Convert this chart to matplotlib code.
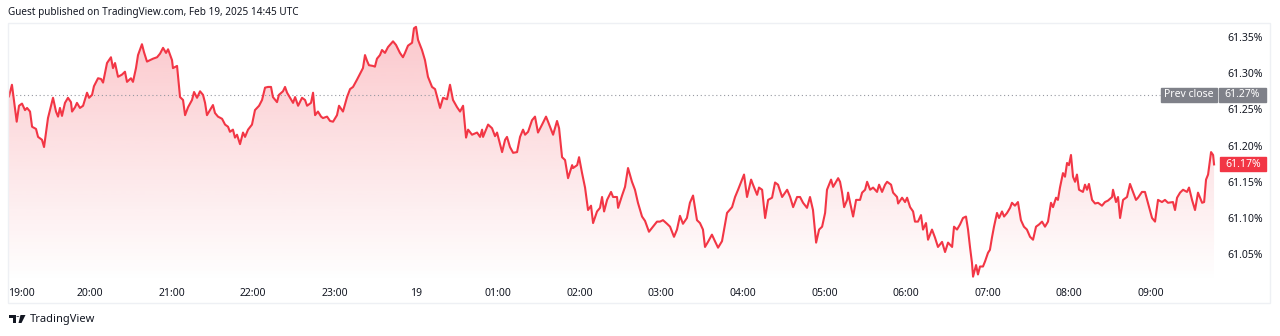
import numpy as np
import matplotlib
matplotlib.use('Agg')
import matplotlib.pyplot as plt
from matplotlib.patches import Rectangle, Polygon, Circle

plt.rcParams['font.family'] = ['Noto Sans', 'DejaVu Sans']

# minutes after 19:00 (Feb 18) and value in %
minutes = [
    0.4, 2.6, 6.1, 7.8, 10.0, 12.2, 13.7, 15.9, 17.4, 20.3,
    21.8, 24.7, 26.2, 29.1, 32.8, 35.0, 36.5, 37.9, 39.4, 41.6,
    43.8, 46.0, 46.8, 49.0, 50.4, 52.6, 54.9, 57.8, 59.3, 61.5,
    62.9, 65.9, 68.1, 69.6, 72.5, 75.4, 76.9, 78.4, 80.6, 83.5,
    85.7, 87.2, 90.1, 91.6, 93.8, 95.3, 98.2, 99.7, 101.9, 104.1,
    106.3, 109.3, 111.5, 113.7, 115.9, 117.4, 120.3, 121.0, 124.0, 126.2,
    128.4, 129.9, 132.1, 135.0, 136.5, 138.7, 140.9, 143.1, 144.6, 146.0,
    148.2, 150.4, 151.9, 154.1, 157.1, 159.3, 161.5, 162.9, 165.1, 166.6,
    168.1, 170.3, 172.5, 174.0, 176.2, 179.1, 181.3, 184.3, 186.5, 188.7,
    190.9, 193.1, 194.5, 197.5, 198.9, 201.9, 203.4, 204.9, 207.1, 209.3,
    210.8, 213.0, 215.9, 218.1, 219.6, 222.5, 224.0, 225.5, 227.6, 229.9,
    231.3, 234.3, 236.5, 238.7, 241.6, 243.1, 246.0, 249.0, 251.2, 253.4,
    256.3, 258.5, 260.7, 262.2, 263.7, 265.1, 268.1, 269.5, 271.0, 273.2,
    274.7, 276.9, 279.1, 282.8, 285.0, 287.9, 290.1, 291.6, 293.8, 296.8,
    298.2, 299.7, 301.2, 304.1, 306.3, 308.5, 311.5, 313.7, 317.4, 319.6,
    322.5, 324.7, 326.9, 329.9, 332.1, 334.3, 336.5, 338.0, 340.9, 344.6,
    346.8, 348.3, 349.0, 352.7, 355.6, 357.8, 359.3, 363.0, 365.2, 366.6,
    368.8, 371.1, 374.0, 376.2, 378.4, 379.9, 382.1, 385.0, 387.2, 389.4,
    392.4, 395.3, 396.8, 400.5, 401.9, 403.4, 404.9, 407.1, 409.3, 411.5,
    414.5, 415.2, 418.2, 419.6, 421.8, 424.0, 426.2, 428.4, 429.9, 432.8,
    435.0, 436.5, 438.0, 440.2, 443.1, 444.6, 447.5, 448.3, 451.2, 453.4,
    455.6, 458.5, 460.7, 462.9, 465.9, 468.1, 471.0, 474.0, 476.9, 479.1,
    481.3, 484.3, 486.5, 489.4, 491.6, 493.8, 496.0, 498.9, 501.1, 503.4,
    506.3, 508.5, 510.7, 512.2, 514.4, 517.3, 519.5, 521.8, 524.7, 528.4,
    532.1, 534.3, 536.5, 539.4, 540.9, 543.1, 546.1, 547.5, 550.5, 551.9,
    554.2, 556.4, 558.6, 561.5, 563.7, 565.9, 568.9, 572.6, 574.8, 577.0,
    579.9, 582.1, 584.3, 587.2, 589.4, 591.6, 593.9, 596.1, 598.3, 600.5,
    601.9, 604.9, 606.4, 608.6, 610.1, 611.5, 613.0, 614.5, 616.7, 617.4,
    618.9, 621.1, 623.3, 626.2, 627.7, 629.9, 631.4, 633.6, 635.8, 638.7,
    640.2, 642.4, 644.6, 646.1, 649.0, 650.5, 653.4, 654.2, 657.1, 659.3,
    660.8, 663.0, 665.2, 666.6, 668.8, 671.0, 672.5, 674.7, 676.2, 679.1,
    681.3, 683.5, 686.5, 688.7, 690.9, 693.9, 695.3, 697.5, 699.7, 701.9,
    704.1, 705.6, 707.1, 708.5, 709.3, 711.5, 712.9, 714.4, 716.6, 718.1,
    720.3, 721.7, 723.2, 724.7, 726.9, 728.4, 730.6, 732.1, 734.3, 736.5,
    737.9, 740.1, 742.3, 744.5, 746.7, 748.9, 751.2, 753.4, 755.6, 757.8,
    760.0, 762.2, 764.4, 766.6, 768.1, 770.3, 771.7, 773.2, 775.4, 776.9,
    778.4, 779.8, 781.3, 782.8, 784.3, 785.7, 787.2, 790.1, 791.6, 793.1,
    794.5, 796.8, 799.0, 801.2, 804.1, 806.3, 808.5, 811.5, 812.2, 814.4,
    815.9, 817.4, 819.6, 822.5, 824.7, 826.9, 829.1, 830.6, 833.5, 835.7,
    837.9, 840.9, 843.1, 845.3, 848.2, 850.4, 852.6, 856.3, 857.8, 859.3,
    861.5, 863.7, 866.6, 868.1, 870.3, 872.5, 874.7, 877.7, 879.2, 880.6,
    882.1, 884.3, 885.8, 886.5,
]
values = [
    61.268, 61.284, 61.233, 61.255, 61.258, 61.249, 61.252, 61.247, 61.226, 61.223,
    61.212, 61.208, 61.198, 61.238, 61.266, 61.247, 61.240, 61.252, 61.241, 61.259,
    61.266, 61.260, 61.247, 61.253, 61.259, 61.252, 61.255, 61.273, 61.266, 61.270,
    61.282, 61.293, 61.292, 61.287, 61.314, 61.322, 61.307, 61.314, 61.295, 61.298,
    61.302, 61.288, 61.293, 61.288, 61.307, 61.325, 61.340, 61.329, 61.316, 61.318,
    61.320, 61.322, 61.327, 61.335, 61.328, 61.333, 61.318, 61.307, 61.310, 61.267,
    61.263, 61.242, 61.253, 61.263, 61.274, 61.266, 61.275, 61.270, 61.259, 61.242,
    61.249, 61.256, 61.245, 61.240, 61.237, 61.229, 61.226, 61.219, 61.222, 61.211,
    61.215, 61.202, 61.218, 61.212, 61.222, 61.229, 61.249, 61.255, 61.263, 61.280,
    61.281, 61.281, 61.267, 61.260, 61.270, 61.275, 61.281, 61.273, 61.266, 61.259,
    61.267, 61.255, 61.266, 61.263, 61.255, 61.259, 61.273, 61.242, 61.247, 61.240,
    61.238, 61.240, 61.234, 61.233, 61.242, 61.255, 61.247, 61.267, 61.278, 61.281,
    61.291, 61.299, 61.307, 61.325, 61.317, 61.311, 61.310, 61.309, 61.320, 61.325,
    61.332, 61.328, 61.336, 61.344, 61.339, 61.328, 61.322, 61.328, 61.338, 61.342,
    61.362, 61.364, 61.346, 61.332, 61.318, 61.295, 61.281, 61.278, 61.252, 61.266,
    61.264, 61.284, 61.263, 61.253, 61.247, 61.255, 61.211, 61.222, 61.215, 61.218,
    61.212, 61.222, 61.212, 61.229, 61.224, 61.213, 61.218, 61.191, 61.208, 61.212,
    61.198, 61.190, 61.191, 61.212, 61.222, 61.215, 61.219, 61.235, 61.240, 61.218,
    61.229, 61.240, 61.233, 61.215, 61.224, 61.234, 61.224, 61.184, 61.180, 61.155,
    61.173, 61.169, 61.173, 61.184, 61.162, 61.142, 61.111, 61.117, 61.093, 61.109,
    61.114, 61.129, 61.109, 61.125, 61.136, 61.129, 61.129, 61.114, 61.131, 61.143,
    61.169, 61.150, 61.139, 61.121, 61.102, 61.096, 61.081, 61.088, 61.095, 61.095,
    61.097, 61.092, 61.088, 61.074, 61.084, 61.103, 61.092, 61.100, 61.121, 61.131,
    61.097, 61.093, 61.084, 61.060, 61.067, 61.077, 61.068, 61.059, 61.068, 61.107,
    61.115, 61.129, 61.139, 61.153, 61.160, 61.129, 61.153, 61.146, 61.132, 61.142,
    61.139, 61.100, 61.125, 61.128, 61.149, 61.146, 61.129, 61.139, 61.129, 61.115,
    61.129, 61.129, 61.121, 61.114, 61.129, 61.111, 61.066, 61.084, 61.088, 61.107,
    61.139, 61.153, 61.143, 61.150, 61.155, 61.150, 61.135, 61.115, 61.125, 61.135,
    61.121, 61.102, 61.125, 61.125, 61.135, 61.139, 61.150, 61.139, 61.142, 61.136,
    61.146, 61.136, 61.146, 61.150, 61.146, 61.135, 61.129, 61.120, 61.128, 61.122,
    61.128, 61.115, 61.109, 61.095, 61.095, 61.104, 61.084, 61.093, 61.070, 61.084,
    61.073, 61.060, 61.067, 61.053, 61.066, 61.060, 61.088, 61.084, 61.091, 61.100,
    61.102, 61.084, 61.059, 61.038, 61.019, 61.035, 61.022, 61.033, 61.033, 61.040,
    61.052, 61.056, 61.073, 61.088, 61.107, 61.100, 61.109, 61.102, 61.107, 61.114,
    61.121, 61.117, 61.122, 61.097, 61.088, 61.084, 61.074, 61.070, 61.088, 61.091,
    61.095, 61.088, 61.095, 61.121, 61.115, 61.128, 61.125, 61.142, 61.162, 61.157,
    61.176, 61.173, 61.187, 61.157, 61.150, 61.160, 61.139, 61.136, 61.146, 61.139,
    61.147, 61.125, 61.120, 61.121, 61.117, 61.122, 61.124, 61.129, 61.139, 61.122,
    61.129, 61.100, 61.125, 61.129, 61.147, 61.136, 61.125, 61.128, 61.136, 61.136,
    61.121, 61.100, 61.095, 61.125, 61.122, 61.125, 61.121, 61.122, 61.111, 61.128,
    61.135, 61.139, 61.136, 61.142, 61.125, 61.111, 61.135, 61.121, 61.122, 61.153,
    61.160, 61.191, 61.187, 61.174,
]

prev_close = 61.27
y_ticks = [61.05, 61.10, 61.15, 61.20, 61.25, 61.30, 61.35]
x_ticks = [0, 60, 120, 180, 240, 300, 360, 420, 480, 540, 600, 660, 720, 780, 840]
x_labels = ['19:00', '20:00', '21:00', '22:00', '23:00', '19', '01:00', '02:00',
            '03:00', '04:00', '05:00', '06:00', '07:00', '08:00', '09:00']

red = '#F23645'
text_col = '#131722'
W, H = 1280, 336

fig = plt.figure(figsize=(12.8, 3.36), dpi=100)
fig.patch.set_facecolor('white')
# pane: x 8..1218 px, y 23..282 px from top
ax = fig.add_axes([8 / W, (H - 282) / H, 1210 / W, 259 / H])
ax.set_facecolor('white')

xmin, xmax = -0.3, 889.4
ymin, ymax = 61.0116, 61.3693

t = np.array(minutes)
v = np.array(values)

# gradient area under the line
grad = np.zeros((256, 1, 4))
grad[..., 0], grad[..., 1], grad[..., 2] = 242 / 255, 54 / 255, 69 / 255
grad[..., 3] = np.linspace(0.28, 0.0, 256)[:, None]
area = ax.fill_between(t, v, ymin, color='none', lw=0)
im = ax.imshow(grad, extent=[xmin, xmax, ymin, ymax], aspect='auto',
               origin='upper', zorder=1, interpolation='bilinear')
im.set_clip_path(area.get_paths()[0], transform=ax.transData)

ax.plot(t, v, color=red, lw=1.5, zorder=3, solid_joinstyle='round')

# previous close dotted line
ax.axhline(prev_close, xmin=0, xmax=0.952, color='#9598A1', lw=0.8,
           ls=(0, (1, 2.5)), zorder=2)

ax.set_xlim(xmin, xmax)
ax.set_ylim(ymin, ymax)
for s in ax.spines.values():
    s.set_visible(False)

ax.set_xticks(x_ticks)
ax.set_xticklabels(x_labels)
ax.tick_params(axis='x', length=0, pad=4, labelsize=7.5, labelcolor=text_col)
xl = ax.get_xticklabels()
xl[0].set_horizontalalignment('left')
xl[0].set_x(1)
xl[5].set_fontweight('bold')

ax.yaxis.tick_right()
ax.set_yticks(y_ticks)
ax.set_yticklabels([f'{y:.2f}%' for y in y_ticks])
ax.tick_params(axis='y', length=0, pad=7, labelsize=7.5, labelcolor=text_col)

# price-scale labels
yt = ax.get_yaxis_transform()
box_h = 14 / 724
ax.add_patch(Rectangle((0.9529, prev_close - box_h / 2), 0.0463, box_h,
                       transform=yt, color='#7F8189', clip_on=False, zorder=5))
ax.text(0.9760, prev_close, 'Prev close', transform=yt, ha='center',
        va='center', color='white', fontsize=7.5, zorder=6)
ax.add_patch(Rectangle((1.0008, prev_close - box_h / 2), 0.0389, box_h,
                       transform=yt, color='#7F8189', clip_on=False, zorder=5))
ax.text(1.0202, prev_close, f'{prev_close:.2f}%', transform=yt, ha='center',
        va='center', color='white', fontsize=7.5, zorder=6)
last = values[-1]
ax.add_patch(Rectangle((1.0017, last - box_h / 2), 0.0380, box_h,
                       transform=yt, color=red, clip_on=False, zorder=5))
ax.text(1.0207, last, f'{int(last * 100) / 100:.2f}%', transform=yt,
        ha='center', va='center', color='white', fontsize=7.5, zorder=6)

# panel border
fig.patches.append(Rectangle((8 / W, (H - 303) / H), 1262 / W, 280 / H,
                             transform=fig.transFigure, fill=False,
                             edgecolor='#EEF0F4', lw=1))

fig.text(8 / W, 1 - 13 / H, 'Guest published on TradingView.com, Feb 19, 2025 14:45 UTC',
         ha='left', va='center', fontsize=7.2, color=text_col)


def px(x, y):
    return (x / W, 1 - y / H)


# TradingView logo
logo = [
    Polygon([px(9, 315), px(16, 315), px(16, 323), px(13, 323),
             px(13, 318), px(9, 318)], closed=True),
    Circle(px(17.8, 316.6), 1.5 / W),
    Polygon([px(20.5, 315), px(25.5, 315), px(21.5, 323), px(18.5, 323)], closed=True),
]
for p in logo:
    p.set_transform(fig.transFigure)
    p.set_facecolor(text_col)
    p.set_edgecolor('none')
    fig.patches.append(p)
fig.text(29.5 / W, 1 - 319.5 / H, 'TradingView', ha='left', va='center',
         fontsize=8, color=text_col)

fig.savefig('out.png', dpi=100, facecolor='white')
